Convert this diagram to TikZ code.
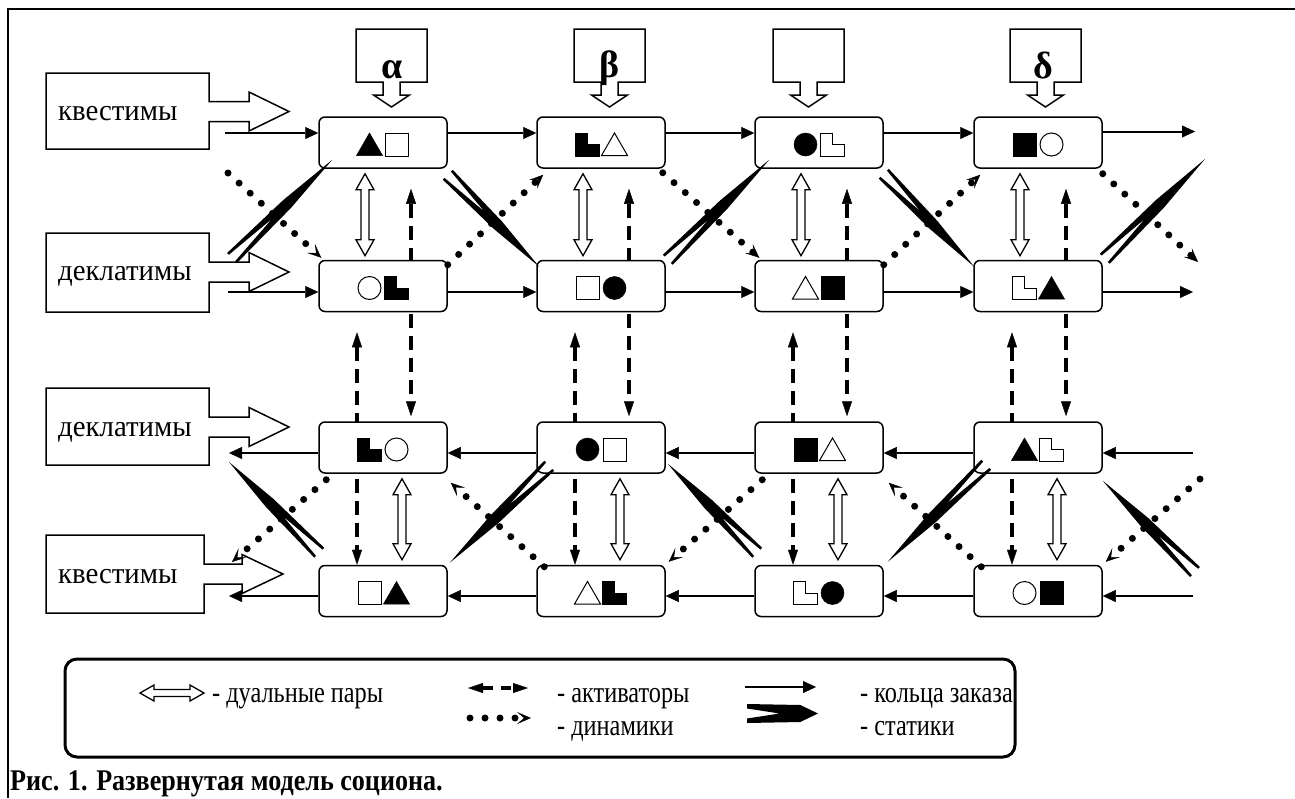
\documentclass[tikz,border=0pt]{standalone}
\usepackage{fontspec}
\setmainfont{Liberation Serif}
\newfontfamily\labfont{Liberation Serif}[FakeStretch=0.96]
\newfontfamily\legfont{Liberation Serif}[FakeStretch=0.81]
\newfontfamily\capfont{Liberation Serif}[FakeStretch=0.87]
\usetikzlibrary{arrows.meta,calc}
\pgfdeclarelayer{bg}
\pgfsetlayers{bg,main}

% hollow double arrow: A, B, head length, head half width, shaft half width
\newcommand\myDual[5]{%
 \coordinate (dA) at (#1); \coordinate (dB) at (#2);
 \coordinate (dHa) at ($(dA)!#3!(dB)$);
 \coordinate (dHb) at ($(dB)!#3!(dA)$);
 \draw[dualst] (dA) -- ($(dHa)!#4!90:(dA)$) -- ($(dHa)!#5!90:(dA)$) -- ($(dHb)!#5!-90:(dB)$) -- ($(dHb)!#4!-90:(dB)$) -- (dB) -- ($(dHb)!#4!90:(dB)$) -- ($(dHb)!#5!90:(dB)$) -- ($(dHa)!#5!-90:(dA)$) -- ($(dHa)!#4!-90:(dA)$) -- cycle;}
% statics spike: tail, tip, outer half, inner half, notch frac, wide frac, wide half
\newcommand\mySpike[7]{%
 \coordinate (sT) at (#1); \coordinate (sP) at (#2);
 \coordinate (sN) at ($(sT)!#5!(sP)$);
 \coordinate (sM) at ($(sT)!#6!(sP)$);
 \fill (sP) -- ($(sM)!#7!90:(sP)$) -- ($(sT)!#3!90:(sP)$) -- ($(sT)!#4!90:(sP)$) -- (sN) -- ($(sT)!#4!-90:(sP)$) -- ($(sT)!#3!-90:(sP)$) -- ($(sM)!#7!-90:(sP)$) -- cycle;}
% top callout with down arrow
\newcommand\myGreek[1]{\draw[cbox] ({#1-35.5},29) -- ({#1+35.5},29) -- ({#1+35.5},82) -- ({#1+8.5},82) -- ({#1+8.5},95) -- ({#1+18},95) -- (#1,107) -- ({#1-18},95) -- ({#1-8.5},95) -- ({#1-8.5},82) -- ({#1-35.5},82) -- cycle;}
% left callout with right arrow: right x, top, bottom, yc, head base, tip
\newcommand\myIn[6]{\draw[cbox] (46,#2) -- (#1,#2) -- (#1,{#4-10}) -- (#5,{#4-10}) -- (#5,{#4-19.5}) -- (#6,#4) -- (#5,{#4+19.5}) -- (#5,{#4+10}) -- (#1,{#4+10}) -- (#1,#3) -- (46,#3) -- cycle;}
\newcommand\mySyms[5]{\pic at ($(#1)+(-13.5,2)$) {#2=#3}; \pic at ($(#1)+(13.5,2)$) {#4=#5};}

\tikzset{
 pics/stri/.style={code={\path[#1] (-13,11) -- (13,11) -- (0,-11.5) -- cycle;}},
 pics/ssq/.style={code={\path[#1] (-11.5,-11.5) rectangle (11.5,11.5);}},
 pics/scirc/.style={code={\path[#1] (0,0) circle[radius=11.5];}},
 pics/sL/.style={code={\path[#1] (-12,-11.5) -- (0,-11.5) -- (0,0) -- (12,0) -- (12,11.5) -- (-12,11.5) -- cycle;}},
}

\begin{document}
\begin{tikzpicture}[x=1pt,y=-1pt,
  sbox/.style={draw,line width=1.5pt,rounded corners=6pt,fill=white,minimum width=128pt,minimum height=51pt,inner sep=0pt},
  cbox/.style={draw,line width=1.5pt,fill=white,line join=miter},
  ring/.style={line width=2pt,-{Triangle[length=13pt,width=12pt,line width=0.4pt]}},
  act/.style={line width=4pt,dash pattern=on 14pt off 8pt,{Triangle[length=15pt,width=10pt,line width=0.4pt]}-{Triangle[length=15pt,width=10pt,line width=0.4pt]}},
  dyn/.style={line width=7pt,dash pattern=on 0pt off 15pt,line cap=round,-{Stealth[length=14pt,width=12pt,inset=7pt,line width=0.4pt]}},
  dualst/.style={draw,line width=1.3pt,fill=white,line join=miter},
  fsym/.style={fill=black,draw=black,line width=0.5pt},
  hsym/.style={fill=white,draw=black,line width=1pt},
  lab/.style={anchor=base west,inner sep=0pt,font=\labfont\fontsize{30}{32}\selectfont},
  leg/.style={anchor=base west,inner sep=0pt,font=\legfont\fontsize{30}{32}\selectfont},
  grk/.style={anchor=base,inner sep=0pt,font=\fontsize{38}{40}\selectfont\bfseries},
]
\useasboundingbox (0,0) rectangle (1295,798);
% frame
\draw[line width=2pt] (1295,9) -- (8,9) -- (8,798);

% top callouts
\myGreek{391.5} \myGreek{609.5} \myGreek{808.5} \myGreek{1045.5}
\node[grk] (ga) at (392,78) {α};
\node[grk] (gb) at (610,77) {β};
\node[grk] (gd) at (1043,78) {δ};

% left callouts
\myIn{209}{73}{149}{111.5}{249}{289}
\myIn{209}{233}{312}{272}{249}{289}
\myIn{209}{388}{465}{427}{249}{289}
\myIn{204}{535}{613}{574}{242}{283}
\node[lab] (q1) at (58,120) {квестимы};
\node[lab] (d1) at (58,280) {деклатимы};
\node[lab] (d2) at (58,436) {деклатимы};
\node[lab] (q2) at (58,583) {квестимы};

% socion nodes
\foreach \c/\x in {1/383,2/601,3/819,4/1038}
  \foreach \r/\y in {1/142.5,2/286,3/447.5,4/591}
    \node[sbox] (n\r\c) at (\x,\y) {};

\mySyms{n11}{stri}{fsym}{ssq}{hsym}
\mySyms{n12}{sL}{fsym}{stri}{hsym}
\mySyms{n13}{scirc}{fsym}{sL}{hsym}
\mySyms{n14}{ssq}{fsym}{scirc}{hsym}
\mySyms{n21}{scirc}{hsym}{sL}{fsym}
\mySyms{n22}{ssq}{hsym}{scirc}{fsym}
\mySyms{n23}{stri}{hsym}{ssq}{fsym}
\mySyms{n24}{sL}{hsym}{stri}{fsym}
\mySyms{n31}{sL}{fsym}{scirc}{hsym}
\mySyms{n32}{scirc}{fsym}{ssq}{hsym}
\mySyms{n33}{ssq}{fsym}{stri}{hsym}
\mySyms{n34}{stri}{fsym}{sL}{hsym}
\mySyms{n41}{ssq}{hsym}{stri}{fsym}
\mySyms{n42}{stri}{hsym}{sL}{fsym}
\mySyms{n43}{sL}{hsym}{scirc}{fsym}
\mySyms{n44}{scirc}{hsym}{ssq}{fsym}

% activators (behind nodes)
\begin{pgfonlayer}{bg}
\foreach \c in {1,...,4} {
  \draw[act] ($(n1\c.south)+(28,20)$) -- ($(n3\c.north)+(28,-5)$);
  \draw[act] ($(n2\c.south)+(-26,20)$) -- ($(n4\c.north)+(-26,0)$);
}
\end{pgfonlayer}

% rings of order
\coordinate (in1) at (225,133); \coordinate (out1) at (1195,131.5);
\coordinate (in2) at (228,292); \coordinate (out2) at (1193,292);
\coordinate (in3) at (1193,453); \coordinate (out3) at (229,453);
\coordinate (in4) at (1193,596); \coordinate (out4) at (229,596);
\draw[ring] (in1) -- ([yshift=9.5pt]n11.west);
\draw[ring] (in2) -- ([yshift=-6pt]n21.west);
\foreach \a/\b in {1/2,2/3,3/4} {
  \draw[ring] ([yshift=9.5pt]n1\a.east) -- ([yshift=9.5pt]n1\b.west);
  \draw[ring] ([yshift=-6pt]n2\a.east) -- ([yshift=-6pt]n2\b.west);
  \draw[ring] ([yshift=-5.5pt]n3\b.west) -- ([yshift=-5.5pt]n3\a.east);
  \draw[ring] ([yshift=-5pt]n4\b.west) -- ([yshift=-5pt]n4\a.east);
}
\draw[ring] ([yshift=11pt]n14.east) -- (out1);
\draw[ring] ([yshift=-6pt]n24.east) -- (out2);
\draw[ring] (in3) -- ([yshift=-5.5pt]n34.east);
\draw[ring] (in4) -- ([yshift=-5pt]n44.east);
\draw[ring] ([yshift=-5.5pt]n31.west) -- (out3);
\draw[ring] ([yshift=-5pt]n41.west) -- (out4);

% dual pairs
\foreach \c in {1,...,4} {
  \myDual{$(n1\c.south)+(-18,5)$}{$(n2\c.north)+(-18,-4)$}{16pt}{9pt}{4pt}
  \myDual{$(n3\c.south)+(19,5)$}{$(n4\c.north)+(19,-5)$}{16pt}{9pt}{4pt}
}

% dynamics
\coordinate (dy1s) at (228,173); \coordinate (dy5e) at (1198,262);
\coordinate (dy6s) at (1200,479); \coordinate (dy10e) at (232,562);
\draw[dyn] (dy1s) -- ($(n21.north west)+(3,-2)$);
\draw[dyn] ($(n21.north east)+(0,5)$) -- ($(n12.south west)+(7,6)$);
\draw[dyn] ($(n12.south east)+(-3,4)$) -- ($(n23.north west)+(5,-2)$);
\draw[dyn] ($(n23.north east)+(0,5)$) -- ($(n14.south west)+(7,6)$);
\draw[dyn] ($(n14.south east)+(0,5)$) -- (dy5e);
\draw[dyn] (dy6s) -- ($(n44.north east)+(3,-3)$);
\draw[dyn] ($(n44.north west)+(8,2)$) -- ($(n33.south east)+(5,9)$);
\draw[dyn] ($(n33.south west)+(8,6)$) -- ($(n42.north east)+(3,-3)$);
\draw[dyn] ($(n42.north west)+(8,2)$) -- ($(n31.south east)+(3,9)$);
\draw[dyn] ($(n31.south west)+(8,6)$) -- (dy10e);

% statics
\coordinate (st1) at (232,258); \coordinate (st5) at (1205,159);
\coordinate (st6) at (1195,572); \coordinate (st10) at (229,462);
\mySpike{st1}{$(n11.south west)+(14,-9)$}{7pt}{4.5pt}{0.4}{0.55}{5.5pt}
\mySpike{$(n11.south east)+(0,6)$}{$(n22.north west)+(3,7)$}{7pt}{4.5pt}{0.4}{0.55}{5.5pt}
\mySpike{$(n22.north east)+(2,0)$}{$(n13.south west)+(15,-9)$}{7pt}{4.5pt}{0.4}{0.55}{5.5pt}
\mySpike{$(n13.south east)+(0,5)$}{$(n24.north west)+(1,7)$}{7pt}{4.5pt}{0.4}{0.55}{5.5pt}
\mySpike{$(n24.north east)+(2,-1)$}{st5}{7pt}{4.5pt}{0.4}{0.55}{5.5pt}
\mySpike{st6}{$(n34.south east)+(0,7)$}{7pt}{4.5pt}{0.4}{0.55}{5.5pt}
\mySpike{$(n34.south west)+(13,-9)$}{$(n43.north east)+(4,-3)$}{7pt}{4.5pt}{0.4}{0.55}{5.5pt}
\mySpike{$(n43.north west)+(3,-12)$}{$(n32.south east)+(2,-10)$}{7pt}{4.5pt}{0.4}{0.55}{5.5pt}
\mySpike{$(n32.south west)+(13,-8)$}{$(n41.north east)+(2,-2)$}{7pt}{4.5pt}{0.4}{0.55}{5.5pt}
\mySpike{$(n41.north west)+(1,-12)$}{st10}{7pt}{4.5pt}{0.4}{0.55}{5.5pt}

% legend
\node[draw,line width=3pt,rounded corners=12pt,minimum width=950pt,minimum height=98pt,inner sep=0pt] (legbox) at (540,708) {};
\myDual{140,693}{204,693}{14pt}{8pt}{3.5pt}
\node[leg] (t1) at (212,702) {- дуальные пары};
\coordinate (a1) at (468,688); \coordinate (a2) at (528,688);
\draw[act,line width=3.5pt,dash pattern=on 10pt off 8pt] (a1) -- (a2);
\coordinate (y1) at (470,718); \coordinate (y2) at (531,718);
\draw[dyn] (y1) -- (y2);
\node[leg] (t2) at (557,702) {- активаторы};
\node[leg] (t3) at (557,735) {- динамики};
\coordinate (r1) at (745,687); \coordinate (r2) at (816,687);
\draw[ring] (r1) -- (r2);
\mySpike{747,713.5}{818,713.5}{9.5pt}{5pt}{0.46}{0.75}{8.5pt}
\node[leg] (t4) at (860,702) {- кольца заказа};
\node[leg] (t5) at (860,735) {- статики};
\node[anchor=base west,inner sep=0pt,font=\capfont\bfseries\fontsize{30}{32}\selectfont] (cap) at (10,790) {Рис. 1. Развернутая модель социона.};
\end{tikzpicture}
\end{document}
